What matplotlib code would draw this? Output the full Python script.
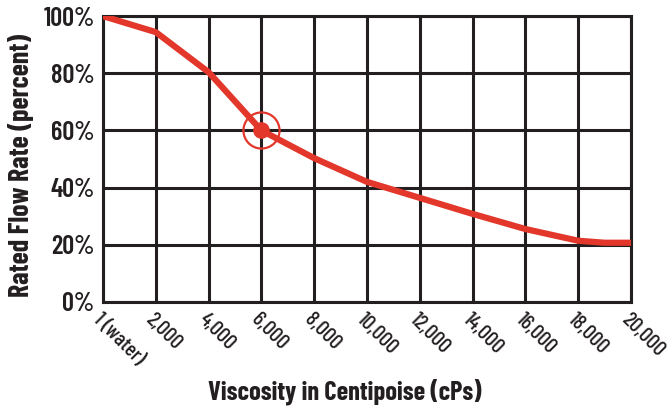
import numpy as np
import matplotlib.pyplot as plt
from matplotlib import font_manager

# data
viscosity = [1, 2000, 4000, 6000, 8000, 10000, 12000, 14000, 16000, 18000, 19000, 20000]
flow_rate = [100, 94.4, 80.4, 60, 50.3, 42, 36.4, 30.8, 25.5, 21.4, 20.7, 20.7]
tick_pos = [1, 2000, 4000, 6000, 8000, 10000, 12000, 14000, 16000, 18000, 20000]
tick_labels = ["1 (water)", "2,000", "4,000", "6,000", "8,000", "10,000",
               "12,000", "14,000", "16,000", "18,000", "20,000"]
y_ticks = [0, 20, 40, 60, 80, 100]
highlight_x = 6000
highlight_y = 60

names = {f.name for f in font_manager.fontManager.ttflist}
font = "Barlow Condensed" if "Barlow Condensed" in names else "DejaVu Sans"
plt.rcParams['font.family'] = [font, 'DejaVu Sans']

red = "#e2372a"
ink = "#231f20"

fig = plt.figure(figsize=(6.67, 4.13), dpi=100)
ax = fig.add_axes([0.1544, 0.269, 0.7916, 0.692])

ax.plot(viscosity, flow_rate, color=red, lw=4.5, solid_capstyle='butt',
        solid_joinstyle='round', zorder=3)
ax.plot([highlight_x], [highlight_y], 'o', color=red, ms=11, zorder=4)
ax.plot([highlight_x], [highlight_y], 'o', mfc='none', mec=red, mew=1.6, ms=26, zorder=4)

ax.set_xlim(1, 20000)
ax.set_ylim(0, 100)
ax.set_xticks(tick_pos)
ax.set_xticklabels(tick_labels, rotation=-45, ha='left', va='top',
                   rotation_mode='anchor', fontsize=15.5, fontweight=500, color=ink)
ax.set_yticks(y_ticks)
ax.set_yticklabels([f"{v}%" for v in y_ticks], fontsize=19, fontweight=600, color=ink)
ax.tick_params(length=0, pad=6)
ax.tick_params(axis='x', pad=6)

ax.grid(True, color=ink, lw=2.2)
ax.set_axisbelow(True)
for s in ax.spines.values():
    s.set_color(ink)
    s.set_linewidth(2.2)

ax.set_xlabel("Viscosity in Centipoise (cPs)", fontsize=19, fontweight='bold', color=ink)
ax.xaxis.set_label_coords(0.458, -0.268)
ax.set_ylabel("Rated Flow Rate (percent)", fontsize=20, fontweight='bold', color=ink)
ax.yaxis.set_label_coords(-0.131, 0.479)

fig.savefig("out.png", dpi=100)
